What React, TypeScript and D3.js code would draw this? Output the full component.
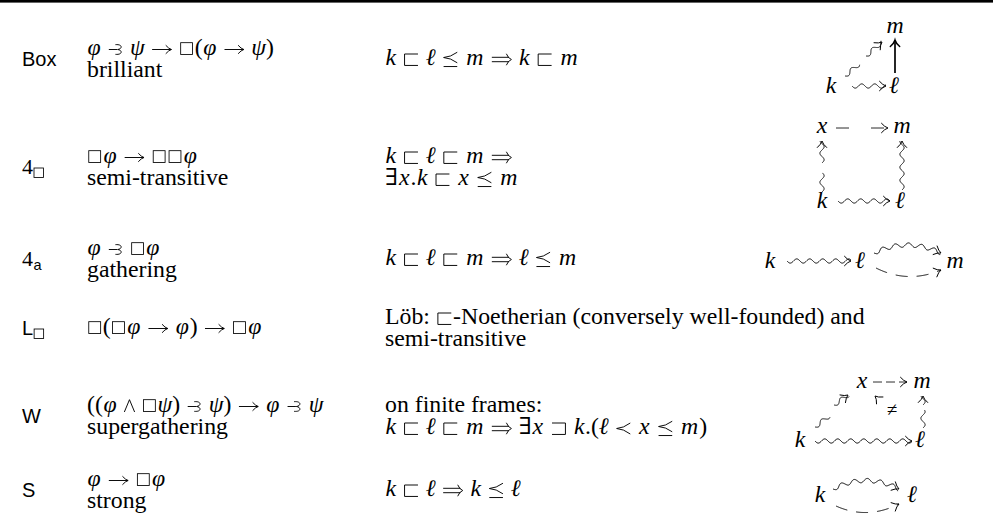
import React, { useEffect, useRef } from "react";
import * as d3 from "d3";

const WIDTH = 993;
const HEIGHT = 522;

// ---------------- data ----------------
const axiomLabels = ["Box", "4_□", "4_a", "L_□", "W", "S"];
const axiomFormulas = [
  "φ ⥽ ψ → □(φ → ψ)",
  "□φ → □□φ",
  "φ ⥽ □φ",
  "□(□φ → φ) → □φ",
  "((φ ∧ □ψ) ⥽ ψ) → φ ⥽ ψ",
  "φ → □φ",
];
const axiomNames = ["brilliant", "semi-transitive", "gathering", "", "supergathering", "strong"];
// "$" prefix = math mode line, otherwise roman text
const frameConditions = [
  ["$k ⊏ ℓ ⪯ m ⇒ k ⊏ m"],
  ["$k ⊏ ℓ ⊏ m ⇒", "$∃x.k ⊏ x ⪯ m"],
  ["$k ⊏ ℓ ⊏ m ⇒ ℓ ⪯ m"],
  ["Löb: ⊏-Noetherian (conversely well-founded) and", "semi-transitive"],
  ["on finite frames:", "$k ⊏ ℓ ⊏ m ⇒ ∃x ⊐ k.(ℓ ≺ x ⪯ m)"],
  ["$k ⊏ ℓ ⇒ k ⪯ ℓ"],
];
const diagramNodeLabels = [
  ["k", "ℓ", "m"],
  ["x", "m", "k", "ℓ"],
  ["k", "ℓ", "m"],
  [],
  ["x", "m", "k", "ℓ"],
  ["k", "ℓ"],
];
const diagramEdgeLabels = [[], [], [], [], ["≠"], []];

// ---------------- layout ----------------
const LAYOUT = {
  labelX: 22,
  col1X: 87,
  col2X: 385,
  rowCenterY: [59, 167, 259, 328, 416, 490],
  lineGap: 22,
};
const diagramNodePos: number[][][] = [
  [[831, 93], [894, 93], [895, 33]],
  [[822, 133], [902, 133], [822, 208], [900, 208]],
  [[770, 268], [860, 268], [955, 268]],
  [],
  [[862, 388], [922, 388], [800, 447], [920, 447]],
  [[820, 502], [912, 502]],
];
const diagramEdgeLabelPos: number[][][] = [[], [], [], [], [[892, 416]], []];
type Arrow = { style: string; pts: number[][]; head: boolean; dash?: string };
const diagramArrows: Arrow[][] = [
  [
    { style: "squig", pts: [[852, 86], [886, 86]], head: true },
    { style: "squig", pts: [[845, 76], [859, 64]], head: false },
    { style: "squig", pts: [[866, 56], [882, 42]], head: true },
    { style: "solid", pts: [[895, 73], [895, 40]], head: true },
  ],
  [
    { style: "dashed", dash: "13,22", pts: [[836, 128], [888, 128]], head: true },
    { style: "squig", pts: [[822, 192], [822, 173]], head: false },
    { style: "squig", pts: [[822, 163], [822, 141]], head: true },
    { style: "squig", pts: [[902, 190], [902, 141]], head: true },
    { style: "squig", pts: [[838, 201], [890, 201]], head: true },
  ],
  [
    { style: "squig", pts: [[787, 261], [851, 261]], head: true },
    { style: "squig", pts: [[874, 253], [907, 237], [941, 253]], head: true },
    { style: "dashed", dash: "12,9", pts: [[876, 268], [908, 284], [941, 270]], head: true },
  ],
  [],
  [
    { style: "dashed", dash: "9,4", pts: [[873, 382], [907, 382]], head: true },
    { style: "squig", pts: [[815, 427], [829, 416]], head: false },
    { style: "squig", pts: [[834, 405], [848, 395]], head: true },
    { style: "squig", pts: [[923, 428], [923, 410]], head: false },
    { style: "squig", pts: [[923, 405], [923, 396]], head: true },
    { style: "squig", pts: [[815, 441], [912, 441]], head: true },
    { style: "headonly", pts: [[890, 410], [875, 396]], head: true },
  ],
  [
    { style: "squig", pts: [[833, 489], [866, 472], [899, 489]], head: true },
    { style: "dashed", dash: "12,9", pts: [[836, 506], [867, 520], [899, 504]], head: true },
  ],
];

// ---------------- styling ----------------
const FS = 23.8;
const SYM = 22;
const SERIF = "'Liberation Serif','DejaVu Serif',serif";
const SANS = "'Liberation Sans','DejaVu Sans',sans-serif";
const INK = "#000";
const SW = 1;
// advance widths (em) of math-italic letters, Computer Modern-like
const ITALIC_ADV: Record<string, number> = { k: 0.521, "ℓ": 0.417, m: 0.878, x: 0.572, "φ": 0.654, "ψ": 0.651 };

type Sel = d3.Selection<SVGGElement, unknown, null, undefined>;

function norm(v: number[]) {
  const l = Math.hypot(v[0], v[1]) || 1;
  return [v[0] / l, v[1] / l];
}

function arrowHead(g: Sel, tip: number[], dir: number[], size = 6.5, sw = SW) {
  const d = norm(dir);
  const n = [-d[1], d[0]];
  const L = size, Wd = size * 0.72;
  const b1 = [tip[0] - L * d[0] + Wd * n[0], tip[1] - L * d[1] + Wd * n[1]];
  const b2 = [tip[0] - L * d[0] - Wd * n[0], tip[1] - L * d[1] - Wd * n[1]];
  const c1 = [tip[0] - 0.5 * L * d[0] + 0.2 * Wd * n[0], tip[1] - 0.5 * L * d[1] + 0.2 * Wd * n[1]];
  const c2 = [tip[0] - 0.5 * L * d[0] - 0.2 * Wd * n[0], tip[1] - 0.5 * L * d[1] - 0.2 * Wd * n[1]];
  g.append("path")
    .attr("d", `M${b1[0]},${b1[1]} Q${c1[0]},${c1[1]} ${tip[0]},${tip[1]} Q${c2[0]},${c2[1]} ${b2[0]},${b2[1]}`)
    .attr("fill", "none")
    .attr("stroke", INK)
    .attr("stroke-width", sw)
    .attr("stroke-linecap", "round");
}

function sampleCurve(pts: number[][], n = 160): number[][] {
  const out: number[][] = [];
  for (let i = 0; i <= n; i++) {
    const t = i / n;
    if (pts.length === 2) {
      out.push([pts[0][0] + (pts[1][0] - pts[0][0]) * t, pts[0][1] + (pts[1][1] - pts[0][1]) * t]);
    } else {
      const [a, c, b] = pts;
      const u = 1 - t;
      out.push([u * u * a[0] + 2 * u * t * c[0] + t * t * b[0], u * u * a[1] + 2 * u * t * c[1] + t * t * b[1]]);
    }
  }
  return out;
}

function endDir(pts: number[][]) {
  const a = pts[pts.length - 2], b = pts[pts.length - 1];
  return [b[0] - a[0], b[1] - a[1]];
}

function wavyPoints(samples: number[][], amp: number, wl: number) {
  const out: number[][] = [];
  let s = 0;
  for (let i = 0; i < samples.length; i++) {
    if (i > 0) s += Math.hypot(samples[i][0] - samples[i - 1][0], samples[i][1] - samples[i - 1][1]);
    const p = samples[Math.max(0, i - 1)], q = samples[Math.min(samples.length - 1, i + 1)];
    const t = norm([q[0] - p[0], q[1] - p[1]]);
    const nrm = [-t[1], t[0]];
    const off = amp * Math.sin((2 * Math.PI * s) / wl);
    out.push([samples[i][0] + nrm[0] * off, samples[i][1] + nrm[1] * off]);
  }
  return out;
}

const lineGen = d3.line<number[]>().x((p) => p[0]).y((p) => p[1]);

function drawArrow(g: Sel, a: Arrow) {
  const samples = sampleCurve(a.pts);
  if (a.style === "squig") {
    g.append("path").attr("d", lineGen(wavyPoints(samples, 2.1, 13)) || "")
      .attr("fill", "none").attr("stroke", INK).attr("stroke-width", SW);
  } else if (a.style === "dashed") {
    g.append("path").attr("d", lineGen(samples) || "")
      .attr("fill", "none").attr("stroke", INK).attr("stroke-width", SW)
      .attr("stroke-dasharray", a.dash || "6,4");
  } else if (a.style === "solid") {
    g.append("path").attr("d", lineGen(samples) || "")
      .attr("fill", "none").attr("stroke", INK).attr("stroke-width", 1.7);
  }
  if (a.head) {
    const tip = a.pts[a.pts.length - 1];
    const dir = a.pts.length === 3 ? endDir(samples) : endDir(a.pts);
    arrowHead(g, tip, dir, 6.5, a.style === "solid" ? 1.5 : SW);
  }
}

// ---------------- math symbols ----------------
const REL = new Set(["⊏", "⊐", "⪯", "≺", "⥽", "→", "⇒", "≠"]);
const BIN = new Set(["∧"]);
const DRAWN = new Set(["⊏", "⊐", "⪯", "≺", "⥽", "→", "⇒", "□", "∧"]);
const ITALIC = /[a-zA-Zφψℓ]/;

function symWidth(c: string) {
  const s = SYM;
  switch (c) {
    case "⊏": case "⊐": case "⪯": case "≺": return 0.778 * s;
    case "⥽": return 0.74 * s;
    case "→": case "⇒": return 1.0 * s;
    case "□": return 0.72 * s;
    case "∧": return 0.667 * s;
  }
  return 0.6 * s;
}

function drawSym(g: Sel, c: string, x: number, y: number) {
  const s = SYM;
  const P = (d: string, sw = 0.95) =>
    g.append("path").attr("d", d).attr("fill", "none").attr("stroke", INK).attr("stroke-width", sw)
      .attr("stroke-linejoin", "miter").attr("stroke-linecap", "butt");
  const ax = y - 0.25 * s;
  switch (c) {
    case "⊏":
      P(`M${x + 0.7 * s},${y - 0.5 * s} H${x + 0.09 * s} V${y + 0.02 * s} H${x + 0.7 * s}`);
      break;
    case "⊐":
      P(`M${x + 0.08 * s},${y - 0.5 * s} H${x + 0.69 * s} V${y + 0.02 * s} H${x + 0.08 * s}`);
      break;
    case "≺":
      P(`M${x + 0.7 * s},${y - 0.5 * s} Q${x + 0.4 * s},${y - 0.27 * s} ${x + 0.08 * s},${ax} Q${x + 0.4 * s},${y - 0.23 * s} ${x + 0.7 * s},${y + 0.0 * s}`);
      break;
    case "⪯":
      P(`M${x + 0.7 * s},${y - 0.58 * s} Q${x + 0.4 * s},${y - 0.36 * s} ${x + 0.08 * s},${y - 0.34 * s} Q${x + 0.4 * s},${y - 0.32 * s} ${x + 0.7 * s},${y - 0.1 * s}`);
      P(`M${x + 0.08 * s},${y + 0.07 * s} H${x + 0.7 * s}`);
      break;
    case "⥽":
      P(`M${x + 0.06 * s},${ax} H${x + 0.44 * s}`);
      P(`M${x + 0.36 * s},${y - 0.47 * s} C${x + 0.7 * s},${y - 0.5 * s} ${x + 0.68 * s},${y - 0.27 * s} ${x + 0.46 * s},${ax} C${x + 0.68 * s},${y - 0.23 * s} ${x + 0.7 * s},${y + 0.0 * s} ${x + 0.36 * s},${y - 0.03 * s}`);
      break;
    case "→":
      P(`M${x + 0.06 * s},${ax} H${x + 0.93 * s}`);
      arrowHead(g, [x + 0.94 * s, ax], [1, 0], 0.25 * s, 0.95);
      break;
    case "⇒":
      P(`M${x + 0.06 * s},${ax - 0.1 * s} H${x + 0.84 * s}`);
      P(`M${x + 0.06 * s},${ax + 0.1 * s} H${x + 0.84 * s}`);
      P(`M${x + 0.72 * s},${ax - 0.26 * s} Q${x + 0.8 * s},${ax - 0.06 * s} ${x + 0.95 * s},${ax} Q${x + 0.8 * s},${ax + 0.06 * s} ${x + 0.72 * s},${ax + 0.26 * s}`);
      break;
    case "□":
      g.append("rect").attr("x", x + 0.08 * s).attr("y", y - 0.56 * s).attr("width", 0.54 * s).attr("height", 0.54 * s)
        .attr("fill", "none").attr("stroke", INK).attr("stroke-width", 0.85);
      break;
    case "∧":
      P(`M${x + 0.1 * s},${y} L${x + 0.333 * s},${y - 0.56 * s} L${x + 0.567 * s},${y}`);
      break;
  }
}

function appendText(g: Sel, s: string, x: number, y: number, italic: boolean, size = FS, family = SERIF) {
  const t = g.append("text")
    .attr("x", x).attr("y", y)
    .attr("font-family", family).attr("font-size", size)
    .attr("font-style", italic ? "italic" : "normal")
    .attr("fill", INK)
    .style("white-space", "pre")
    .text(s);
  const node = t.node() as SVGTextElement;
  return { t, w: node.getComputedTextLength() };
}

function textRun(g: Sel, s: string, x: number, y: number, italic: boolean, size = FS, family = SERIF) {
  return appendText(g, s, x, y, italic, size, family).w;
}

function drawMath(g: Sel, str: string, x0: number, y: number) {
  let x = x0;
  const chars = Array.from(str);
  let first = true;
  for (const c of chars) {
    if (c === " ") continue;
    if (DRAWN.has(c)) {
      const sp = REL.has(c) ? 0.278 * SYM : BIN.has(c) ? 0.222 * SYM : 0;
      if (!first) x += sp;
      drawSym(g, c, x, y);
      x += symWidth(c) + sp;
    } else if (ITALIC.test(c)) {
      const { t, w } = appendText(g, c, x, y, true);
      const adv = ITALIC_ADV[c] ? Math.max(ITALIC_ADV[c] * SYM, w) : w + 0.02 * FS;
      t.attr("x", x + (adv - w) / 2);
      x += adv;
    } else {
      x += textRun(g, c, x, y, false);
    }
    first = false;
  }
  return x;
}

function drawText(g: Sel, str: string, x0: number, y: number) {
  let x = x0;
  const parts = str.split(/(⊏)/);
  for (const p of parts) {
    if (!p) continue;
    if (p === "⊏") {
      drawSym(g, p, x, y);
      x += symWidth(p);
    } else {
      x += textRun(g, p, x, y, false);
    }
  }
  return x;
}

function drawLine(g: Sel, str: string, x: number, y: number) {
  if (str.startsWith("$")) drawMath(g, str.slice(1), x, y);
  else drawText(g, str, x, y);
}

function drawLabel(g: Sel, label: string, x: number, y: number) {
  const [base, sub] = label.split("_");
  let cx = x;
  if (/^\d$/.test(base)) cx += textRun(g, base, cx, y, false, 22, SERIF);
  else cx += textRun(g, base, cx, y, false, 20, SANS);
  if (sub === "□") {
    g.append("rect").attr("x", cx + 1).attr("y", y - 6).attr("width", 9.5).attr("height", 9.5)
      .attr("fill", "none").attr("stroke", INK).attr("stroke-width", 0.85);
  } else if (sub) {
    textRun(g, sub, cx + 0.5, y + 4, false, 14.5, SANS);
  }
}

function draw(svg: d3.Selection<SVGSVGElement, unknown, null, undefined>) {
  svg.append("rect").attr("width", WIDTH).attr("height", HEIGHT).attr("fill", "#fff");
  svg.append("rect").attr("x", 0).attr("y", 0).attr("width", WIDTH).attr("height", 2.6).attr("fill", INK);
  const g = svg.append("g") as unknown as Sel;

  axiomLabels.forEach((lab, i) => {
    const C = LAYOUT.rowCenterY[i];
    drawLabel(g, lab, LAYOUT.labelX, C + 7);

    // column 1: formula + name
    if (axiomNames[i]) {
      drawMath(g, axiomFormulas[i], LAYOUT.col1X, C - 4);
      drawText(g, axiomNames[i], LAYOUT.col1X, C - 4 + LAYOUT.lineGap);
    } else {
      drawMath(g, axiomFormulas[i], LAYOUT.col1X, C + 6);
    }

    // column 2: frame condition
    const lines = frameConditions[i];
    if (lines.length === 2) {
      drawLine(g, lines[0], LAYOUT.col2X, C - 4);
      drawLine(g, lines[1], LAYOUT.col2X, C - 4 + LAYOUT.lineGap);
    } else {
      drawLine(g, lines[0], LAYOUT.col2X, C + 6);
    }

    // column 3: diagram
    diagramNodeLabels[i].forEach((n, j) => {
      const [nx, ny] = diagramNodePos[i][j];
      g.append("text").attr("x", nx).attr("y", ny).attr("text-anchor", "middle")
        .attr("font-family", SERIF).attr("font-style", "italic").attr("font-size", FS)
        .attr("fill", INK).text(n);
    });
    diagramEdgeLabels[i].forEach((n, j) => {
      const [nx, ny] = diagramEdgeLabelPos[i][j];
      g.append("text").attr("x", nx).attr("y", ny).attr("text-anchor", "middle")
        .attr("font-family", SERIF).attr("font-size", 19).attr("fill", INK).text(n);
    });
    diagramArrows[i].forEach((a) => drawArrow(g, a));
  });
}

export default function App() {
  const ref = useRef<SVGSVGElement>(null);
  useEffect(() => {
    if (!ref.current) return;
    const svg = d3.select(ref.current);
    svg.selectAll("*").remove();
    draw(svg as any);
  }, []);
  return (
    <svg
      ref={ref}
      width={WIDTH}
      height={HEIGHT}
      style={{ position: "absolute", left: 0, top: 0, display: "block", background: "#fff" }}
    />
  );
}
